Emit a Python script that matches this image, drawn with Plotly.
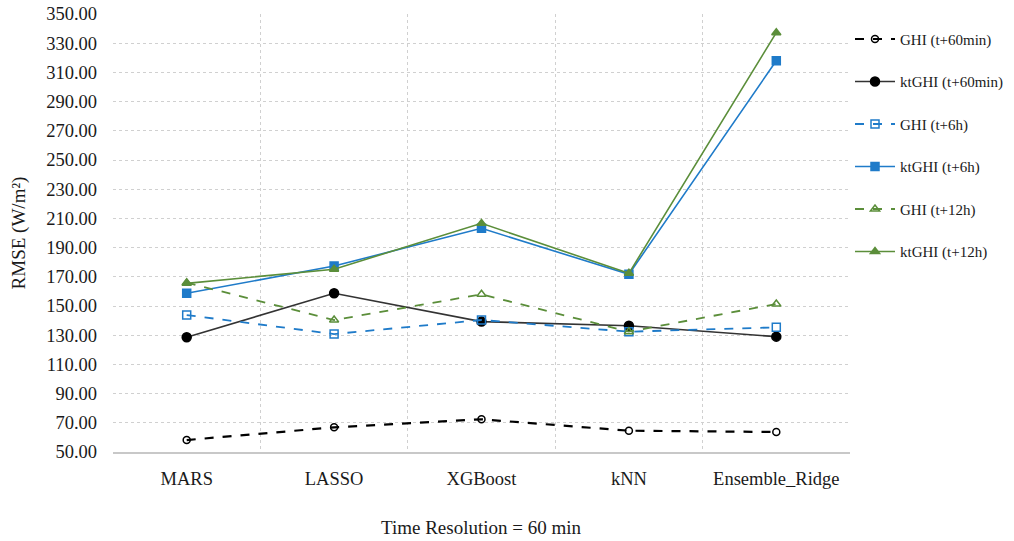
import plotly.graph_objects as go

categories = ["MARS", "LASSO", "XGBoost", "kNN", "Ensemble_Ridge"]
ghi_60min = [58.2, 66.9, 72.4, 64.6, 63.7]
ktghi_60min = [128.6, 158.7, 139.3, 136.5, 129.0]
ghi_6h = [143.8, 130.8, 140.4, 132.4, 135.4]
ktghi_6h = [158.7, 177.4, 203.2, 171.7, 318.0]
ghi_12h = [166.0, 140.4, 158.0, 132.4, 151.4]
ktghi_12h = [165.5, 175.2, 206.6, 172.4, 337.2]

series_names = ["GHI (t+60min)", "ktGHI (t+60min)", "GHI (t+6h)",
                "ktGHI (t+6h)", "GHI (t+12h)", "ktGHI (t+12h)"]
y_ticks = [50 + 20 * i for i in range(16)]

BLACK = "#000000"
BLUE = "#1F7BC9"
GREEN = "#5B8E3A"

styles = [
    (ghi_60min, BLACK, "dash", 2.2, "circle-open", 7),
    (ktghi_60min, "#333333", "solid", 1.6, "circle", 9),
    (ghi_6h, BLUE, "dash", 1.8, "square-open", 8),
    (ktghi_6h, BLUE, "solid", 1.6, "square", 8),
    (ghi_12h, GREEN, "dash", 1.8, "triangle-up-open", 8),
    (ktghi_12h, GREEN, "solid", 1.6, "triangle-up", 8),
]

fig = go.Figure()
for name, (vals, col, dash, lw, sym, ms) in zip(series_names, styles):
    mcol = BLACK if col == "#333333" else col
    fig.add_trace(go.Scatter(
        x=categories, y=vals, name=name, mode="lines+markers",
        line=dict(color=col, dash=dash, width=lw),
        marker=dict(symbol=sym, size=ms, color=mcol,
                    line=dict(color=mcol, width=1.5)),
        legendgroup=name,
    ))

font_family = "Liberation Serif"
fig.update_layout(
    width=1014, height=541,
    margin=dict(l=113, r=164, t=14, b=89, autoexpand=False),
    paper_bgcolor="white", plot_bgcolor="white",
    font=dict(family=font_family, size=19, color="#1a1a1a"),
    showlegend=True,
    legend=dict(x=1.0, xanchor="left", y=0.98, yanchor="top",
                font=dict(family=font_family, size=15, color="#1a1a1a"),
                tracegroupgap=20, bgcolor="rgba(0,0,0,0)",
                itemwidth=40),
    xaxis=dict(
        type="category", range=[-0.5, 4.5], tickson="boundaries",
        showgrid=True, gridcolor="#d0d0d0", griddash="dot", gridwidth=1,
        showline=True, linecolor="#c8c8c8", linewidth=1.5,
        ticks="", ticklabelstandoff=9, mirror=False, zeroline=False,
        tickfont=dict(size=18.5),
    ),
    yaxis=dict(
        range=[50, 350], tickvals=y_ticks, tickformat=".2f",
        showgrid=True, gridcolor="#d0d0d0", griddash="dot", gridwidth=1,
        showline=False, ticks="", ticklabelstandoff=15, zeroline=False,
        tickfont=dict(size=18.5),
    ),
    annotations=[
        dict(text="RMSE (W/m²)", xref="paper", yref="paper",
             x=-0.127, y=0.5, textangle=-90, showarrow=False,
             xanchor="center", yanchor="middle", font=dict(size=19)),
        dict(text="Time Resolution = 60 min", xref="paper", yref="paper",
             x=0.5, y=-0.172, showarrow=False, xanchor="center",
             yanchor="middle", font=dict(size=19)),
    ],
)
fig.write_html("out.html")
